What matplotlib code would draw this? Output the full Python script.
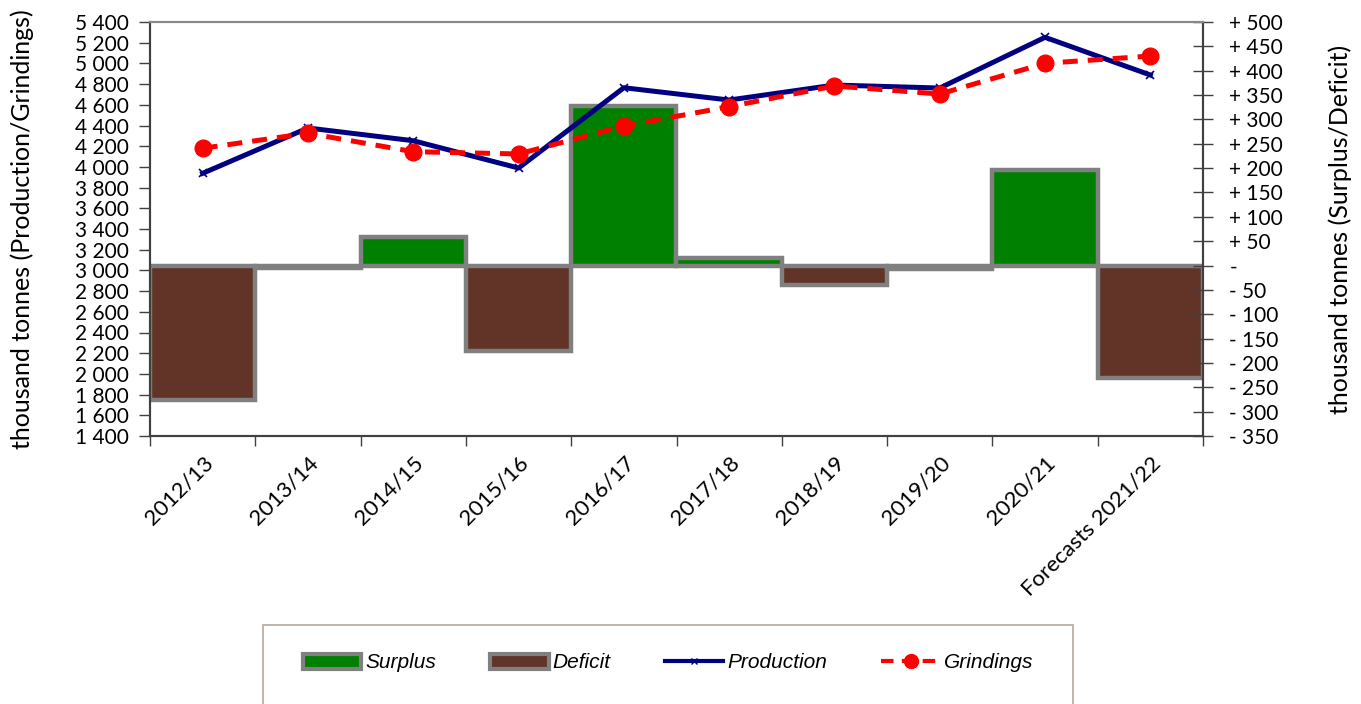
import numpy as np
import matplotlib
matplotlib.use('Agg')
import matplotlib.pyplot as plt
from matplotlib.patches import Rectangle, Patch
from matplotlib.lines import Line2D
from matplotlib.ticker import FuncFormatter

plt.rcParams['font.family'] = ['Lato', 'DejaVu Sans']

seasons = ['2012/13', '2013/14', '2014/15', '2015/16', '2016/17',
           '2017/18', '2018/19', '2019/20', '2020/21', 'Forecasts 2021/22']
balance = [-276, -6, 58, -175, 328, 15, -40, -7, 196, -231]
production = [3938, 4376, 4253, 3989, 4765, 4646, 4791, 4762, 5252, 4888]
grindings = [4180, 4325, 4147, 4125, 4395, 4582, 4782, 4704, 5001, 5071]

x = np.arange(len(seasons))

fig = plt.figure(figsize=(13.61, 7.04), dpi=100)
ax = fig.add_axes([150 / 1361, 1 - 436 / 704, (1203 - 150) / 1361, (436 - 22) / 704])
ax2 = ax.twinx()

# bars on the right axis, drawn behind the lines
ax.set_zorder(ax2.get_zorder() + 1)
ax.patch.set_visible(False)

green = '#008000'
brown = '#613427'
edge = '#808080'
bar_colors = [green if v >= 0 else brown for v in balance]
ax2.bar(x, balance, width=1.0, color=bar_colors, edgecolor=edge, linewidth=3.2)

ax.plot(x, production, color='#000080', lw=3.6, marker='x', ms=6, mew=1.2)
ax.plot(x, grindings, color='#ff0000', lw=3.6, ls=(0, (3, 2)), marker='o', ms=12)

ax.set_xlim(-0.5, len(seasons) - 0.5)
ax.set_ylim(1400, 5400)
ax.set_yticks(np.arange(1400, 5401, 200))
ax.yaxis.set_major_formatter(FuncFormatter(lambda v, p: f'{int(v):,}'.replace(',', ' ')))
ax2.set_ylim(-350, 500)
ax2.set_yticks(np.arange(-350, 501, 50))


def signed(v, p):
    v = int(round(v))
    if v == 0:
        return '-'
    return f'+ {v}' if v > 0 else f'- {abs(v)}'


ax2.yaxis.set_major_formatter(FuncFormatter(signed))

ax.set_xticks(np.arange(-0.5, len(seasons), 1.0))
ax.set_xticklabels([])
ax.set_xticks(x, minor=True)
ax.set_xticklabels(seasons, minor=True, rotation=45, ha='right',
                   rotation_mode='anchor', fontsize=16)
ax.tick_params(axis='x', which='minor', length=0, pad=12)
ax.tick_params(axis='x', which='major', length=7, width=1, direction='out', color='#404040')
ax.tick_params(axis='y', labelsize=15, length=8, width=1, direction='out', color='#404040', pad=7)
ax2.tick_params(axis='y', labelsize=15, length=14, width=1, direction='inout', color='#404040', pad=12)

for a in (ax, ax2):
    for s in a.spines.values():
        s.set_linewidth(1.5)
        s.set_color('#404040')
    a.spines['top'].set_color('#888888')

ax.set_ylabel('thousand tonnes (Production/Grindings)', fontsize=18)
ax.yaxis.set_label_coords(-0.110, 0.5)
ax2.set_ylabel('thousand tonnes (Surplus/Deficit)', fontsize=18)
ax2.yaxis.set_label_coords(1.119, 0.5)

# legend box at the bottom
fig.patches.append(Rectangle((263 / 1361, -0.05), (1073 - 263) / 1361, 1 - 625 / 704 + 0.05,
                             transform=fig.transFigure, fill=False,
                             edgecolor='#b8a8a0', lw=1.2))
handles = [
    Patch(facecolor=green, edgecolor=edge, linewidth=3),
    Patch(facecolor=brown, edgecolor=edge, linewidth=3),
    Line2D([], [], color='#000080', lw=3, marker='x', ms=5),
    Line2D([], [], color='#ff0000', lw=3, ls=(0, (3, 2)), marker='o', ms=10),
]
fig.legend(handles, ['Surplus', 'Deficit', 'Production', 'Grindings'],
           loc='center', bbox_to_anchor=(668 / 1361, 1 - 663 / 704), ncol=4,
           frameon=False, columnspacing=2.6, handlelength=2.8, handletextpad=0.2,
           prop={'family': ['Liberation Sans', 'DejaVu Sans'],
                 'style': 'italic', 'size': 15})

fig.savefig('out.png', dpi=100)
